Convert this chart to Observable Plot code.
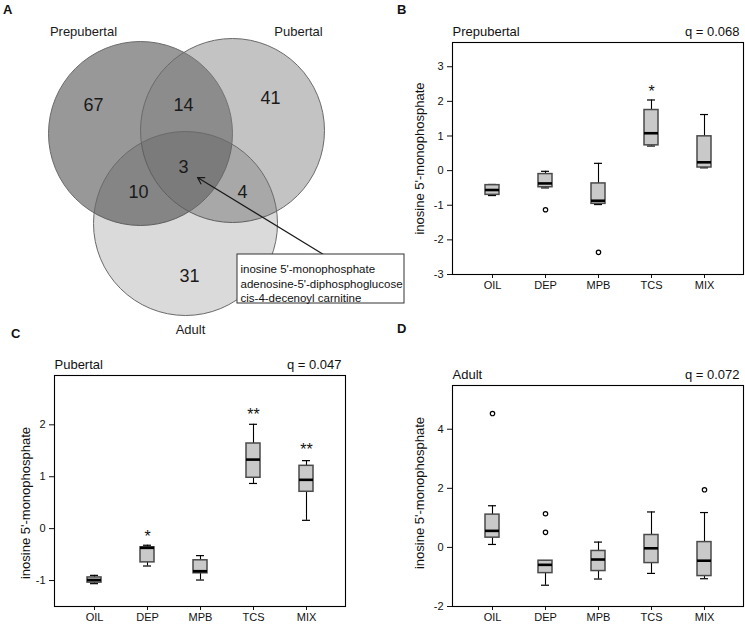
<!DOCTYPE html>
<html><head><meta charset="utf-8">
<script src="https://cdn.jsdelivr.net/npm/d3@7"></script>
<script src="https://cdn.jsdelivr.net/npm/@observablehq/plot@0.6"></script>
<style>
body{margin:0;background:#fff;}
#fig{position:relative;width:745px;height:624px;font-family:"Liberation Sans",Arial,sans-serif;overflow:hidden;background:#fff;}
#fig svg{position:absolute;overflow:visible;max-width:none;background:transparent;}
.lab{position:absolute;font-weight:bold;font-size:13px;line-height:13px;color:#111;}
</style></head><body><div id="fig"></div><script>
// ---------- data ----------
const groups = ["OIL", "DEP", "MPB", "TCS", "MIX"];
const yLabel = "inosine 5'-monophosphate";

// Venn diagram
const vennSets = ["Prepubertal", "Pubertal", "Adult"];
const vennRegions = ["Prepubertal only", "Prepubertal & Pubertal", "Pubertal only", "All three", "Prepubertal & Adult", "Pubertal & Adult", "Adult only"];
const vennCounts = [67, 14, 41, 3, 10, 4, 31];
const sharedMetabolites = ["inosine 5'-monophosphate", "adenosine-5'-diphosphoglucose", "cis-4-decenoyl carnitine"];

// Box statistics per group: [min whisker, q1, median, q3, max whisker]
const prepubertalStats = [[-0.72, -0.70, -0.56, -0.42, -0.40], [-0.50, -0.48, -0.37, -0.10, -0.02], [-0.98, -0.96, -0.87, -0.37, 0.21], [0.71, 0.73, 1.08, 1.75, 2.04], [0.08, 0.09, 0.24, 0.99, 1.62]];
const prepubertalOutliers = [["DEP", -1.13], ["MPB", -2.36]];
const prepubertalStars = [["TCS", "*", 2.28]];
const prepubertalQ = "q = 0.068";

const pubertalStats = [[-1.06, -1.04, -0.99, -0.94, -0.90], [-0.72, -0.65, -0.37, -0.36, -0.32], [-0.99, -0.86, -0.82, -0.61, -0.52], [0.87, 0.98, 1.33, 1.64, 2.01], [0.16, 0.71, 0.94, 1.21, 1.31]];
const pubertalOutliers = [];
const pubertalStars = [["DEP", "*", -0.16], ["TCS", "**", 2.19], ["MIX", "**", 1.52]];
const pubertalQ = "q = 0.047";

const adultStats = [[0.10, 0.33, 0.56, 1.11, 1.41], [-1.28, -0.87, -0.59, -0.45, -0.45], [-1.07, -0.80, -0.41, -0.12, 0.18], [-0.88, -0.53, -0.03, 0.42, 1.20], [-1.06, -0.97, -0.45, 0.18, 1.18]];
const adultOutliers = [["OIL", 4.53], ["DEP", 1.14], ["DEP", 0.51], ["MIX", 1.95]];
const adultStars = [];
const adultQ = "q = 0.072";

// ---------- layout (pixels) ----------
const vennLayout = {
  radius: 92,
  centers: [[140, 133], [232, 130], [185, 223]],
  fills: ["rgb(152,152,152)", "rgb(126,126,126)", "rgb(43,43,43)"],
  opacities: [1, 0.466, 0.175],
  setLabels: [[83, 31], [298, 31], [190, 329]],
  regionLabels: [[93, 105], [183, 105], [270, 98], [183, 167], [138, 192], [242, 192], [189, 276]],
  box: {x1: 237, x2: 404, y1: 254, y2: 303}
};

const fig = document.getElementById("fig");
const font = {fontFamily: "'Liberation Sans', Arial, sans-serif", fontSize: "11px", color: "#111"};

function place(el, left, top) {
  el.style.left = left + "px";
  el.style.top = top + "px";
  fig.appendChild(el);
}

function boxPanel({stats, outliers, stars, yDomain, yTicks, title, q, width, height, margins, labelDx, labelDy}) {
  const rows = groups.map((g, i) => ({group: g, min: stats[i][0], q1: stats[i][1], median: stats[i][2], q3: stats[i][3], max: stats[i][4]}));
  const out = outliers.map(([group, value]) => ({group, value}));
  const st = stars.map(([group, mark, value]) => ({group, mark, value}));
  return Plot.plot({
    width, height, ...margins,
    style: font,
    x: {type: "band", domain: groups, paddingInner: 0.74, paddingOuter: 0.61, align: 0.5, label: null, tickSize: 4, tickPadding: 3},
    y: {domain: yDomain, ticks: yTicks, tickFormat: d => String(d), tickSize: 5, tickPadding: 4, label: null},
    marks: [
      Plot.ruleX(rows, {x: "group", y1: "min", y2: "max", stroke: "#000", strokeWidth: 1.1}),
      Plot.tickY(rows, {x: "group", y: "min", inset: 3, stroke: "#000", strokeWidth: 1.2}),
      Plot.tickY(rows, {x: "group", y: "max", inset: 3, stroke: "#000", strokeWidth: 1.2}),
      Plot.barY(rows, {x: "group", y1: "q1", y2: "q3", fill: "#c9c9c9", stroke: "#4a4a4a", strokeWidth: 1.5}),
      Plot.tickY(rows, {x: "group", y: "median", stroke: "#000", strokeWidth: 2.6}),
      Plot.dot(out, {x: "group", y: "value", r: 2.2, stroke: "#000", fill: "#fff", strokeWidth: 1.2}),
      Plot.text(st, {x: "group", y: "value", text: "mark", fontSize: 16, fill: "#111"}),
      Plot.frame({stroke: "#000", strokeWidth: 1.1}),
      Plot.text([title], {text: d => d, frameAnchor: "top-left", lineAnchor: "middle", dy: -11, textAnchor: "start", fontSize: 13}),
      Plot.text([q], {text: d => d, frameAnchor: "top-right", lineAnchor: "middle", dy: -11, dx: -4, textAnchor: "end", fontSize: 13}),
      Plot.text([yLabel], {text: d => d, frameAnchor: "left", textAnchor: "middle", lineAnchor: "middle", rotate: -90, dx: labelDx, dy: labelDy, fontSize: 13})
    ]
  });
}

// Panel B
const pB = boxPanel({stats: prepubertalStats, outliers: prepubertalOutliers, stars: prepubertalStars,
  yDomain: [-3, 3.7], yTicks: [-3, -2, -1, 0, 1, 2, 3], title: "Prepubertal", q: prepubertalQ,
  width: 373, height: 312, margins: {marginLeft: 80, marginRight: 2, marginTop: 42, marginBottom: 38}, labelDx: -33, labelDy: 0});
place(pB, 372, 0);

// Panel C
const pC = boxPanel({stats: pubertalStats, outliers: pubertalOutliers, stars: pubertalStars,
  yDomain: [-1.5, 2.95], yTicks: [-1, 0, 1, 2], title: "Pubertal", q: pubertalQ,
  width: 372, height: 312, margins: {marginLeft: 54, marginRight: 27, marginTop: 63, marginBottom: 18}, labelDx: -29, labelDy: 12});
place(pC, 0, 312);

// Panel D
const pD = boxPanel({stats: adultStats, outliers: adultOutliers, stars: adultStars,
  yDomain: [-2, 5.48], yTicks: [-2, 0, 2, 4], title: "Adult", q: adultQ,
  width: 373, height: 312, margins: {marginLeft: 80, marginRight: 2, marginTop: 73, marginBottom: 18}, labelDx: -33, labelDy: -3});
place(pD, 372, 312);

// Panel A: Venn diagram
const L = vennLayout;
const circles = vennSets.map((name, i) => ({name, cx: L.centers[i][0], cy: L.centers[i][1], fill: L.fills[i], op: L.opacities[i]}));
const regions = vennRegions.map((name, i) => ({name, count: vennCounts[i], x: L.regionLabels[i][0], y: L.regionLabels[i][1]}));
const setLabels = vennSets.map((name, i) => ({name, x: L.setLabels[i][0], y: L.setLabels[i][1]}));
const allThree = regions[3];
const arrowData = [{x1: L.box.x1 + 86, y1: L.box.y1, x2: allThree.x + 14, y2: allThree.y + 10}];
const boxLines = sharedMetabolites.map((t, i) => ({t, x: L.box.x1 + 3, y: L.box.y1 + 15 + i * 14.5}));

const pA = Plot.plot({
  width: 410, height: 340, margin: 0,
  style: font,
  x: {type: "identity", axis: null},
  y: {type: "identity", axis: null},
  marks: [
    ...circles.map(c => Plot.dot([c], {x: "cx", y: "cy", r: L.radius, fill: c.fill, fillOpacity: c.op, stroke: "#6a6a6a", strokeWidth: 1})),
    Plot.text(regions, {x: "x", y: "y", text: d => String(d.count), fontSize: 18, fill: "#1a1a1a"}),
    Plot.text(setLabels, {x: "x", y: "y", text: "name", fontSize: 13, fill: "#1a1a1a"}),
    Plot.arrow(arrowData, {x1: "x1", y1: "y1", x2: "x2", y2: "y2", bend: 0, headLength: 9, stroke: "#1a1a1a", strokeWidth: 1.2}),
    Plot.rect([L.box], {x1: "x1", x2: "x2", y1: "y1", y2: "y2", fill: "#fff", stroke: "#333", strokeWidth: 1}),
    Plot.text(boxLines, {x: "x", y: "y", text: "t", textAnchor: "start", fontSize: 11.5, fill: "#111"})
  ]
});
place(pA, 0, 0);

// Panel letters
[["A", 3, 3], ["B", 397, 3], ["C", 11, 327], ["D", 397, 322]].forEach(([t, x, y]) => {
  const d = document.createElement("div");
  d.className = "lab";
  d.textContent = t;
  place(d, x, y);
});
</script></body></html>
